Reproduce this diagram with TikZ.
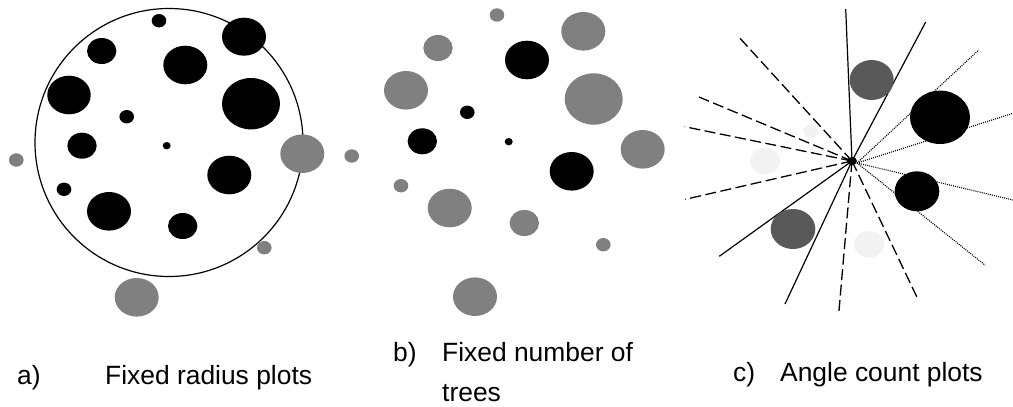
\documentclass[tikz,border=0pt]{standalone}
\usepackage{fontspec}
\setmainfont{Liberation Sans}
\begin{document}
\begin{tikzpicture}[x=1pt,y=-1pt,
  tblack/.style={fill=black},
  tgray/.style={fill={rgb,255:red,128;green,128;blue,128}},
  tdark/.style={fill={rgb,255:red,89;green,89;blue,89}},
  tlight/.style={fill={rgb,255:red,242;green,242;blue,242}},
  plotline/.style={line width=1.2pt},
  solidray/.style={line width=1.2pt},
  dashray/.style={line width=1.3pt, dash pattern=on 11pt off 4.5pt},
  dotray/.style={line width=1.1pt, dash pattern=on 1pt off 1.1pt},
  lbl/.style={anchor=base west, inner sep=0pt, font=\fontsize{26.4}{30}\selectfont}]
\useasboundingbox (0,0) rectangle (1013,407);

% ---------- panel a ----------
\draw[plotline] (169,142.5) circle [radius=134];
\fill[tblack] (159,20.7) ellipse [x radius=7.3, y radius=6.7];
\fill[tblack] (244,36.7) ellipse [x radius=22, y radius=19];
\fill[tblack] (101.7,51) ellipse [x radius=14.7, y radius=13];
\fill[tblack] (185.3,65) ellipse [x radius=22, y radius=19.3];
\fill[tblack] (69,95) ellipse [x radius=21.7, y radius=19.3];
\fill[tblack] (251,103.7) ellipse [x radius=29, y radius=25.7];
\fill[tblack] (126.7,116.7) ellipse [x radius=7.3, y radius=6.7];
\fill[tblack] (82,145.7) ellipse [x radius=14.7, y radius=13];
\fill[tblack] (166.7,145.7) ellipse [x radius=4, y radius=3.7];
\fill[tgray] (302.3,153.7) ellipse [x radius=22, y radius=19.3];
\fill[tgray] (16.3,160) ellipse [x radius=7.3, y radius=6.7];
\fill[tgray] (351.7,156) ellipse [x radius=7.3, y radius=6.7];
\fill[tblack] (229.3,175) ellipse [x radius=22, y radius=19.3];
\fill[tblack] (64,189.3) ellipse [x radius=7.3, y radius=6.7];
\fill[tblack] (109,211.3) ellipse [x radius=22, y radius=19.3];
\fill[tblack] (182.7,226) ellipse [x radius=14.7, y radius=13];
\fill[tgray] (264.3,247.7) ellipse [x radius=7.3, y radius=6.7];
\fill[tgray] (136.7,297.3) ellipse [x radius=22, y radius=19.3];

% ---------- panel b ----------
\fill[tgray] (497,15) ellipse [x radius=7.3, y radius=6.7];
\fill[tgray] (583.3,31.3) ellipse [x radius=22, y radius=19.3];
\fill[tgray] (438,48) ellipse [x radius=14.7, y radius=13];
\fill[tblack] (527,60) ellipse [x radius=22, y radius=19.3];
\fill[tgray] (406,90.3) ellipse [x radius=22, y radius=19.3];
\fill[tgray] (593.7,99) ellipse [x radius=29, y radius=25.7];
\fill[tblack] (467.3,112.3) ellipse [x radius=7.3, y radius=6.7];
\fill[tblack] (422.3,141.3) ellipse [x radius=14.7, y radius=13];
\fill[tblack] (508.7,141.7) ellipse [x radius=4, y radius=3.7];
\fill[tgray] (642.7,149.3) ellipse [x radius=22, y radius=19.3];
\fill[tblack] (571.7,171.3) ellipse [x radius=22, y radius=19.3];
\fill[tgray] (401,185.7) ellipse [x radius=7.3, y radius=6.7];
\fill[tgray] (449.7,208) ellipse [x radius=22, y radius=19.3];
\fill[tgray] (524.3,223) ellipse [x radius=14.7, y radius=13];
\fill[tgray] (603.3,244.7) ellipse [x radius=7.3, y radius=6.7];
\fill[tgray] (475,296.7) ellipse [x radius=22, y radius=19.3];

% ---------- panel c ----------
\coordinate (O) at (852,161);
\coordinate (Od) at (857,163);
\coordinate (s1) at (845.7,9);
\coordinate (s2) at (925.7,22);
\coordinate (s3) at (719.3,256.3);
\coordinate (s4) at (785,304);
\coordinate (d1) at (740,38.3);
\coordinate (d2) at (697.3,96.3);
\coordinate (d3) at (684.7,126.7);
\coordinate (d4) at (685.3,199.3);
\coordinate (d5) at (838.7,314);
\coordinate (d6) at (918.3,300);
\coordinate (p1) at (978.7,50);
\coordinate (p2) at (1013,113.3);
\coordinate (p3) at (1013,200);
\coordinate (p4) at (985.3,265.3);
\foreach \e in {s1,s2,s3,s4} \draw[solidray] (O) -- (\e);
\foreach \e in {d1,d2,d3,d4,d5,d6} \draw[dashray] (O) -- (\e);
\foreach \e in {p1,p2,p3,p4} \draw[dotray] (Od) -- (\e);
\fill[tdark] (871.7,80) ellipse [x radius=22, y radius=20];
\fill[tblack] (940,117.3) ellipse [x radius=30, y radius=26.7];
\fill[tlight] (811,131) ellipse [x radius=7.3, y radius=6.7];
\fill[tlight] (765,161) ellipse [x radius=15, y radius=13.3];
\fill[tblack] (917,191.3) ellipse [x radius=22.3, y radius=20];
\fill[tdark] (793,229) ellipse [x radius=22.3, y radius=20];
\fill[tlight] (869,244.3) ellipse [x radius=15, y radius=13.3];
\fill[tblack] (O) ellipse [x radius=5, y radius=4];

% ---------- labels ----------
\node[lbl] (la) at (17,384) {a)};
\node[lbl] (ta) at (105,384) {Fixed radius plots};
\node[lbl] (lb) at (393,361) {b)};
\node[lbl] (tb) at (442,361) {Fixed number of};
\node[lbl] (tb2) at (442,401) {trees};
\node[lbl] (lc) at (733,381) {c)};
\node[lbl] (tc) at (780,381) {Angle count plots};
\end{tikzpicture}
\end{document}
